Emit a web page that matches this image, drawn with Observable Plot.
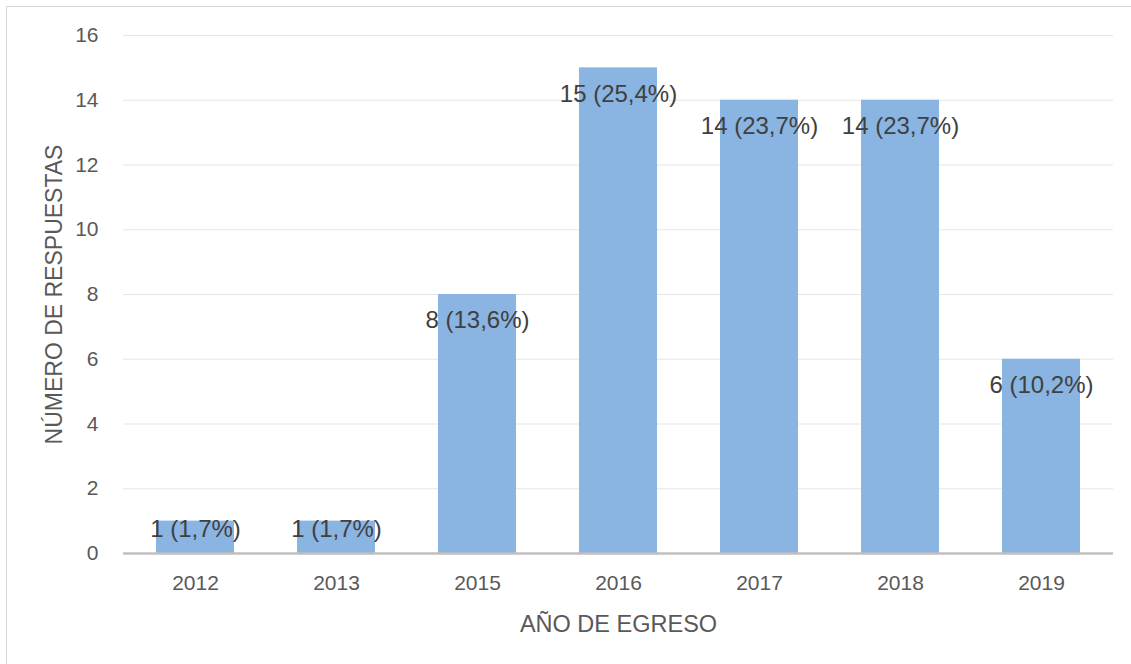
<!DOCTYPE html>
<html>
<head>
<meta charset="utf-8">
<script src="https://cdn.jsdelivr.net/npm/d3@7"></script>
<script src="https://cdn.jsdelivr.net/npm/@observablehq/plot@0.6"></script>
<style>
  html, body { margin: 0; padding: 0; background: #fff; }
  #wrap { position: relative; width: 1131px; height: 664px; overflow: hidden; }
  #frame { position: absolute; left: 6px; top: 6px; width: 1140px; height: 680px; border: 1.5px solid #d9d9d9; box-sizing: border-box; }
  #chart { position: absolute; left: 0; top: 0; }
</style>
</head>
<body>
<div id="wrap"><div id="frame"></div><div id="chart"></div></div>
<script>
const years = ["2012", "2013", "2015", "2016", "2017", "2018", "2019"];
const counts = [1, 1, 8, 15, 14, 14, 6];
const percents = ["1,7", "1,7", "13,6", "25,4", "23,7", "23,7", "10,2"];
const yTicks = [0, 2, 4, 6, 8, 10, 12, 14, 16];
const yTitle = "NÚMERO DE RESPUESTAS";
const xTitle = "AÑO DE EGRESO";

const data = years.map((y, i) => ({year: y, value: counts[i], label: `${counts[i]} (${percents[i]}%)`}));

const chart = Plot.plot({
  width: 1131,
  height: 664,
  marginLeft: 123,
  marginRight: 18,
  marginTop: 35,
  marginBottom: 111,
  style: {fontFamily: "'Liberation Sans', Arial, sans-serif", background: "transparent"},
  x: {domain: years, paddingInner: 0.45, paddingOuter: 0.225},
  y: {domain: [0, 16]},
  marks: [
    Plot.gridY(yTicks, {stroke: "#e6e6e6", strokeOpacity: 1, strokeWidth: 1.2}),
    Plot.barY(data, {x: "year", y: "value", fill: "#8ab4e1"}),
    Plot.ruleY([0], {stroke: "#bfbfbf", strokeWidth: 2.5}),
    Plot.axisY({ticks: yTicks, tickSize: 0, tickPadding: 25, fontSize: 21, color: "#595959", label: null}),
    Plot.axisY({ticks: [], tickSize: 0, fontSize: 23, color: "#595959",
      label: yTitle, labelArrow: "none", labelAnchor: "center", labelOffset: 78}),
    Plot.axisX({tickSize: 0, tickPadding: 22, fontSize: 21, color: "#595959", label: null}),
    Plot.axisX({ticks: [], tickSize: 0, fontSize: 23.5, color: "#595959",
      label: xTitle, labelArrow: "none", labelAnchor: "center", labelOffset: 78}),
    Plot.text(data.filter(d => d.value > 1), {x: "year", y: "value", text: "label", dy: 26, fontSize: 24, fill: "#404040"}),
    Plot.text(data.filter(d => d.value <= 1), {x: "year", y: "value", text: "label", dy: 8, fontSize: 24, fill: "#404040"})
  ]
});
document.getElementById("chart").appendChild(chart);
</script>
</body>
</html>
